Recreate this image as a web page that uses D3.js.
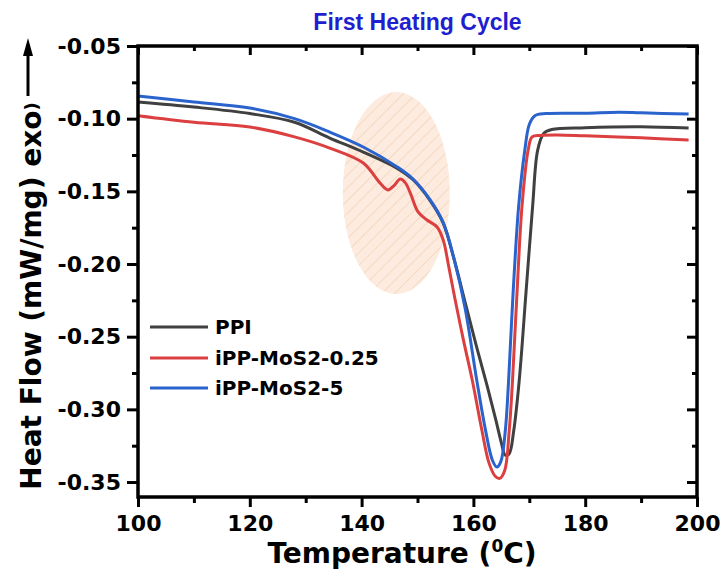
<!DOCTYPE html>
<html>
<head>
<meta charset="utf-8">
<script src="https://cdn.jsdelivr.net/npm/d3@7"></script>
<style>
  body { margin: 0; background: #fff; }
  svg text { font-family: "DejaVu Sans", Verdana, sans-serif; font-weight: bold; }
</style>
</head>
<body>
<div id="chart"></div>
<script>
// series: [temperature, heat flow]
const ppi = [
  [100, -0.0885], [110, -0.092], [120, -0.0965], [128, -0.1025], [134.3, -0.1133],
  [140.3, -0.123], [146.3, -0.134], [149.2, -0.142], [152.2, -0.156], [154.6, -0.1718],
  [156.5, -0.196], [158.5, -0.226], [160.5, -0.256], [162.4, -0.283], [164, -0.307],
  [165, -0.323], [165.7, -0.3315], [166.4, -0.3305], [167.2, -0.315], [168.2, -0.28],
  [169.4, -0.22], [170.6, -0.16], [171.5, -0.1216], [172.6, -0.11], [174, -0.1075],
  [180, -0.1062], [190, -0.1055], [198.5, -0.1065]
]
const mos025 = [
  [100, -0.098], [110, -0.1025], [120, -0.1057], [128, -0.1125], [134.3, -0.1202],
  [140.3, -0.1305], [143.3, -0.1443], [144.7, -0.149], [145.8, -0.146], [146.9, -0.1415],
  [147.8, -0.144], [148.7, -0.151], [150.1, -0.1642], [151.7, -0.1697], [153.5, -0.1745],
  [154.6, -0.1835], [155.6, -0.202], [156.6, -0.222], [158.2, -0.252], [159.8, -0.28],
  [161.5, -0.314], [162.8, -0.337], [163.9, -0.346], [164.7, -0.3475], [165.6, -0.342],
  [166.4, -0.315], [167.0, -0.28], [167.8, -0.22], [168.7, -0.16], [169.8, -0.1216],
  [170.5, -0.1126], [172, -0.1115], [175, -0.1112], [180, -0.1118], [190, -0.1132],
  [198.5, -0.1147]
]
const mos5 = [
  [100, -0.0844], [110, -0.0885], [120, -0.0927], [128, -0.1], [134.3, -0.1092],
  [140.3, -0.1195], [146.3, -0.133], [149.2, -0.1415], [152.2, -0.1555], [154.6, -0.1715],
  [156.5, -0.196], [158.5, -0.23], [160.6, -0.28], [162.2, -0.315], [163.4, -0.335],
  [164.2, -0.3397], [164.9, -0.336], [165.7, -0.315], [166.3, -0.28], [167.1, -0.22],
  [168.1, -0.16], [169.2, -0.1216], [170, -0.104], [171, -0.098], [173, -0.0965],
  [180, -0.0962], [186, -0.0955], [190, -0.096], [198.5, -0.0968]
]
const seriesNames = ["PPI", "iPP-MoS2-0.25", "iPP-MoS2-5"]
const seriesColors = ["#404040", "#dc3f3f", "#2a63cc"]
const xTicks = [100, 120, 140, 160, 180, 200]
const yTicks = [-0.35, -0.30, -0.25, -0.20, -0.15, -0.10, -0.05]

const width = 726, height = 574
const margin = {left: 138, right: 29, top: 46, bottom: 77}

const svg = d3.select("#chart").append("svg")
  .attr("width", width).attr("height", height)

const x = d3.scaleLinear().domain([100, 200]).range([margin.left, width - margin.right])
const y = d3.scaleLinear().domain([-0.3603, -0.05]).range([height - margin.bottom, margin.top])

// highlighted region (hatched ellipse)
const defs = svg.append("defs")
const pat = defs.append("pattern").attr("id", "hatch")
  .attr("patternUnits", "userSpaceOnUse").attr("width", 9).attr("height", 9)
  .attr("patternTransform", "rotate(45)")
pat.append("rect").attr("width", 9).attr("height", 9).attr("fill", "#fcebde")
pat.append("line").attr("x1", 0).attr("y1", 0).attr("x2", 0).attr("y2", 9)
  .attr("stroke", "#f3cfae").attr("stroke-width", 1.2)

svg.append("ellipse")
  .attr("cx", x(146.2)).attr("cy", y(-0.1511))
  .attr("rx", 53.5).attr("ry", 101)
  .attr("fill", "url(#hatch)")

// lines
const line = d3.line().x(d => x(d[0])).y(d => y(d[1])).curve(d3.curveCatmullRom.alpha(0.5))
const allSeries = [ppi, mos025, mos5]
allSeries.forEach((s, i) => {
  svg.append("path").datum(s)
    .attr("d", line)
    .attr("fill", "none")
    .attr("stroke", seriesColors[i])
    .attr("stroke-width", 3)
    .attr("stroke-linejoin", "round")
})

// axes
const xMinor = d3.range(110, 200, 20)
const yMinor = d3.range(-0.325, -0.06, 0.05)
const pBottom = height - margin.bottom, pTop = margin.top
const pLeft = margin.left, pRight = width - margin.right

const gx = svg.append("g").attr("transform", `translate(0,${pBottom})`)
  .call(d3.axisBottom(x).tickValues(xTicks).tickSize(10).tickPadding(8).tickFormat(d3.format("d")))
gx.append("g").call(d3.axisBottom(x).tickValues(xMinor).tickSize(6).tickFormat(""))

svg.append("g").attr("transform", `translate(0,${pTop})`)
  .call(d3.axisBottom(x).tickValues(xTicks).tickSize(9).tickFormat(""))
  .append("g").call(d3.axisBottom(x).tickValues(xMinor).tickSize(5).tickFormat(""))

const gy = svg.append("g").attr("transform", `translate(${pLeft},0)`)
  .call(d3.axisLeft(y).tickValues(yTicks).tickSize(11).tickPadding(6).tickFormat(d => d.toFixed(2)))
gy.append("g").call(d3.axisLeft(y).tickValues(yMinor).tickSize(6).tickFormat(""))

svg.append("g").attr("transform", `translate(${pRight},0)`)
  .call(d3.axisLeft(y).tickValues(yTicks).tickSize(10).tickFormat(""))
  .append("g").call(d3.axisLeft(y).tickValues(yMinor).tickSize(5).tickFormat(""))

svg.selectAll(".domain").remove()
svg.selectAll(".tick line").attr("stroke", "#000").attr("stroke-width", 3)
svg.selectAll(".tick text").attr("fill", "#000").style("font-size", "22px")

svg.append("rect")
  .attr("x", pLeft).attr("y", pTop)
  .attr("width", pRight - pLeft).attr("height", pBottom - pTop)
  .attr("fill", "none").attr("stroke", "#000").attr("stroke-width", 3.5)

// title
svg.append("text")
  .attr("x", (pLeft + pRight) / 2).attr("y", 30)
  .attr("text-anchor", "middle")
  .style("font-family", "'Liberation Sans', Arial, sans-serif")
  .style("font-size", "23px")
  .attr("fill", "#1f1fd0")
  .text("First Heating Cycle")

// x label
const xl = svg.append("text")
  .attr("x", 402).attr("y", 563)
  .attr("text-anchor", "middle")
  .style("font-size", "28px")
xl.append("tspan").text("Temperature (")
xl.append("tspan").attr("dy", -11).style("font-size", "17px").text("0")
xl.append("tspan").attr("dy", 11).text("C)")

// y label with arrow
const yl = svg.append("g").attr("transform", "translate(41,296) rotate(-90)")
const ylt = yl.append("text").attr("text-anchor", "middle").style("font-size", "28px")
ylt.append("tspan").text("Heat Flow (mW/mg) exo")
ylt.append("tspan").style("font-size", "18px").attr("dy", -3).text(")")
svg.append("line")
  .attr("x1", 28).attr("x2", 28).attr("y1", 96).attr("y2", 52)
  .attr("stroke", "#000").attr("stroke-width", 3)
svg.append("path")
  .attr("d", "M28,38 L23,56 L33,56 Z")
  .attr("fill", "#000")

// legend
const legendY = [327, 358, 388]
seriesNames.forEach((name, i) => {
  svg.append("line")
    .attr("x1", 150).attr("x2", 208)
    .attr("y1", legendY[i]).attr("y2", legendY[i])
    .attr("stroke", seriesColors[i]).attr("stroke-width", 3)
  svg.append("text")
    .attr("x", 215).attr("y", legendY[i] + 7)
    .style("font-size", "20px")
    .text(name)
})
</script>
</body>
</html>
